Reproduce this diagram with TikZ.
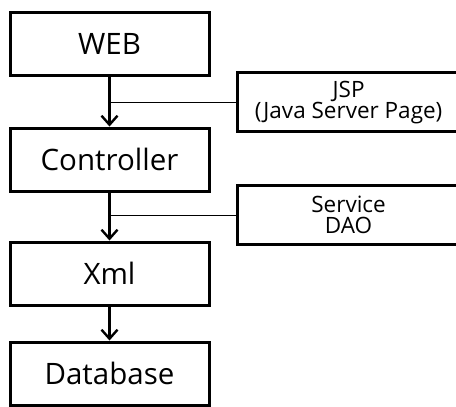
\documentclass[tikz,border=0pt]{standalone}
\usepackage{fontspec}
\setmainfont{Open Sans}
\usetikzlibrary{arrows.meta}
\begin{document}
\begin{tikzpicture}[x=1pt,y=-1pt,
  mainbox/.style={draw, line width=3pt, minimum width=199pt, minimum height=63pt, inner sep=0pt, font=\fontsize{29.5}{32}\selectfont, anchor=north west},
  sidebox/.style={draw, line width=2.6pt, minimum width=222pt, minimum height=59pt, inner sep=0pt, font=\fontsize{22.5}{25}\selectfont, align=center, anchor=north west},
  flow/.style={line width=2.4pt, -{Straight Barb[length=9pt,width=16pt,line width=2.4pt]}},
  tie/.style={line width=1.2pt}]
\useasboundingbox (0,0) rectangle (456,407);
\clip (0,0) rectangle (456,407);
\node[mainbox] (web) at (8.5,10.5) {WEB};
\node[mainbox] (ctrl) at (8.5,126.5) {Controller};
\node[mainbox] (xml) at (8.5,240.5) {Xml};
\node[mainbox] (db) at (8.5,340.5) {Database};
\node[sidebox] (jsp) at (236.3,71.3) {JSP\\[-4pt](Java Server Page)};
\node[sidebox] (svc) at (236.3,184.3) {Service\\[-4pt]DAO};
\draw[flow] (web.south) -- (ctrl.north);
\draw[flow] (ctrl.south) -- (xml.north);
\draw[flow] (xml.south) -- (db.north);
\draw[tie] (jsp.west) -- (jsp.west -| web.south);
\draw[tie] (svc.west) -- (svc.west -| ctrl.south);
\end{tikzpicture}
\end{document}
